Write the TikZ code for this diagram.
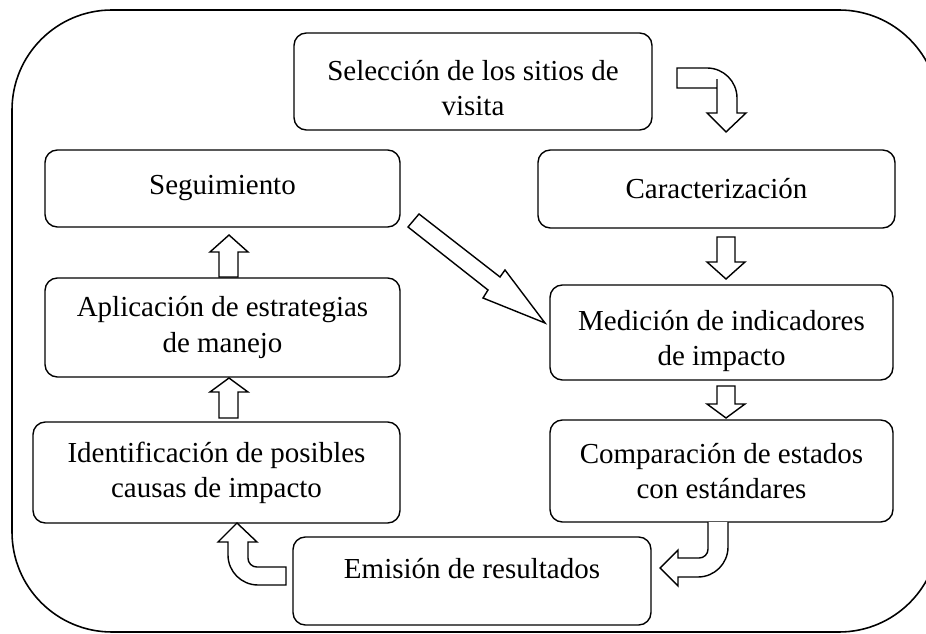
\documentclass[tikz,border=0pt]{standalone}
\usepackage{fontspec}
\setmainfont{Liberation Serif}
\begin{document}
\begin{tikzpicture}[x=0.02cm, y=-0.02cm,
	caja/.style = {draw, line width=0.8pt, rounded corners=7pt, align=center, inner sep=0pt, font=\fontsize{16.5}{20}\selectfont},
	texto/.style = {align=center, inner sep=0pt, font=\fontsize{16.5}{20}\selectfont},
	flecha/.style = {draw, fill=white, line width=0.8pt, line join=miter}]
	\clip (0,0) rectangle (926,634);
	\draw[line width=0.9pt, rounded corners=2cm] (12,10) rectangle (939,632);
	\node[caja, minimum width=7.16cm, minimum height=1.94cm, label={[texto, yshift=-3.5pt]center:{Selección de los sitios de\\visita}}] (sel) at (473,81.5) {};
	\node[caja, minimum width=7.1cm, minimum height=1.54cm] (seg) at (222.5,188.5) {Seguimiento};
	\node[caja, minimum width=7.14cm, minimum height=1.56cm] (car) at (716.5,189) {Caracterización};
	\node[caja, minimum width=7.1cm, minimum height=1.98cm] (apl) at (222.5,327.5) {Aplicación de estrategias\\de manejo};
	\node[caja, minimum width=6.86cm, minimum height=1.9cm, label={[texto, yshift=-5pt]center:{Medición de indicadores\\de impacto}}] (med) at (721.5,332.5) {};
	\node[caja, minimum width=7.34cm, minimum height=2.02cm] (ide) at (216.5,472.5) {Identificación de posibles\\causas de impacto};
	\node[caja, minimum width=6.86cm, minimum height=2.04cm] (com) at (721.5,471) {Comparación de estados\\con estándares};
	\node[caja, minimum width=7.16cm, minimum height=1.76cm, label={[texto, yshift=6.8pt]center:Emisión de resultados}] (emi) at (472,581) {};
	% flechas
	\draw[flecha] (677,88) -- (717,88) [rounded corners=5pt] -- (717,88) [sharp corners] -- (717,113) -- (707,113) -- (726,132) -- (746,113) -- (737,113)
		[rounded corners=0.6cm] -- (737,68) [sharp corners] -- (677,68) -- cycle;
	\draw[flecha] (717,237) -- (717,262) -- (707,262) -- (726,279) -- (745,262) -- (735,262) -- (735,237) -- cycle;
	\draw[flecha] (717,386) -- (717,404) -- (707,404) -- (726,418) -- (745,404) -- (735,404) -- (735,386) -- cycle;
	\draw[flecha] (219,277) -- (219,252) -- (210,252) -- (229,235) -- (248,252) -- (238,252) -- (238,277) -- cycle;
	\draw[flecha] (219,418) -- (219,392) -- (210,392) -- (229,378) -- (248,392) -- (238,392) -- (238,418) -- cycle;
	\draw[flecha] (419,214) -- (500,277) -- (505,270) -- (545,323) -- (483,298) -- (488,290) -- (408,227) -- cycle;
	\draw[flecha] (708,522) [rounded corners=5pt] -- (708,558) [sharp corners] -- (678,558) -- (678,550) -- (660,568) -- (678,586) -- (678,577)
		[rounded corners=0.6cm] -- (728,577) [sharp corners] -- (728,522);
	\draw[flecha] (286,567) [rounded corners=5pt] -- (248,567) [sharp corners] -- (248,542) -- (257,542) -- (237,523) -- (218,542) -- (228,542)
		[rounded corners=0.6cm] -- (228,585) [sharp corners] -- (286,585) -- cycle;
\end{tikzpicture}
\end{document}
